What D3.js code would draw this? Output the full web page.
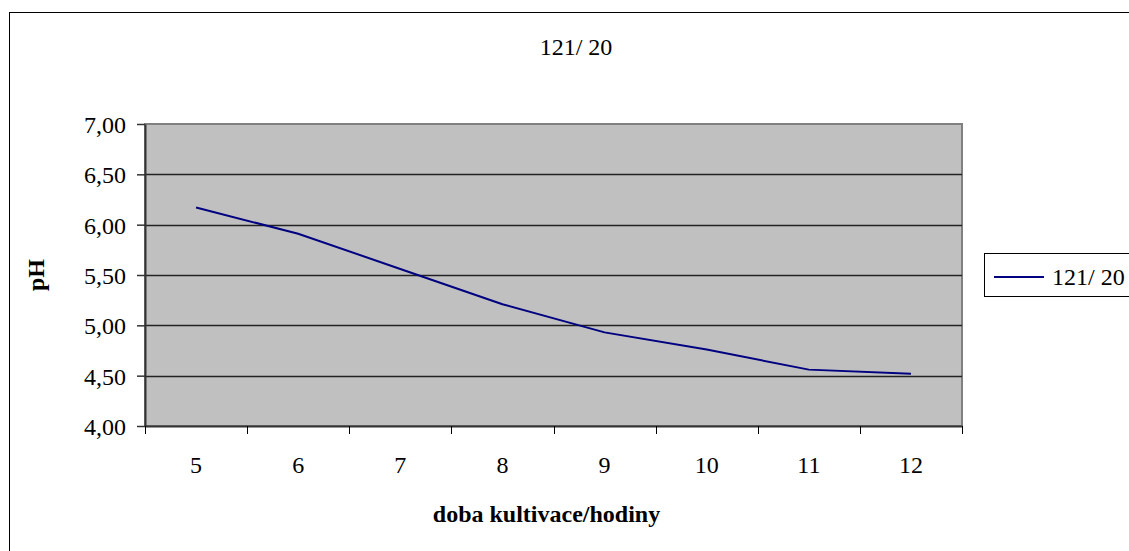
<!DOCTYPE html>
<html>
<head>
<meta charset="utf-8">
<script src="https://cdn.jsdelivr.net/npm/d3@7"></script>
<style>
  body { margin: 0; background: #fff; }
  svg text { font-family: "Times New Roman", "Liberation Serif", "DejaVu Serif", serif; font-size: 24px; fill: #000; }
</style>
</head>
<body>
<svg id="chart"></svg>
<script>
// data
const hours = ["5", "6", "7", "8", "9", "10", "11", "12"];
const phValues = [6.17, 5.91, 5.56, 5.21, 4.93, 4.76, 4.56, 4.52];
const yTicks = [4.0, 4.5, 5.0, 5.5, 6.0, 6.5, 7.0];
const seriesName = "121/ 20";
const chartTitle = "121/ 20";
const xTitle = "doba kultivace/hodiny";
const yTitle = "pH";

const W = 1129, H = 551;
const plot = {left: 145, top: 124, right: 962, bottom: 426};

const svg = d3.select("#chart")
    .attr("width", W)
    .attr("height", H);

// outer chart border (runs off the right/bottom edge like the original)
svg.append("rect")
    .attr("x", 9.5).attr("y", 12.5)
    .attr("width", 1140).attr("height", 560)
    .attr("fill", "#fff")
    .attr("stroke", "#000")
    .attr("stroke-width", 1);

const x = d3.scaleBand()
    .domain(hours)
    .range([plot.left, plot.right]);

const y = d3.scaleLinear()
    .domain([4, 7])
    .range([plot.bottom, plot.top]);

const fmt = d3.formatLocale({decimal: ",", thousands: " ", grouping: [3], currency: ["", ""]}).format(".2f");

// plot area
svg.append("rect")
    .attr("x", plot.left).attr("y", plot.top)
    .attr("width", plot.right - plot.left)
    .attr("height", plot.bottom - plot.top)
    .attr("fill", "#c0c0c0")
    .attr("stroke", "#808080")
    .attr("stroke-width", 2);

// gridlines
svg.append("g")
    .selectAll("line")
    .data(yTicks.filter(d => d > 4 && d < 7))
    .join("line")
    .attr("x1", plot.left).attr("x2", plot.right)
    .attr("y1", d => Math.round(y(d)) + 0.5)
    .attr("y2", d => Math.round(y(d)) + 0.5)
    .attr("stroke", "#222")
    .attr("stroke-width", 1.5);

// y axis
const yAxisG = svg.append("g")
    .attr("class", "axis y-axis")
    .attr("transform", `translate(${plot.left},0)`)
    .call(d3.axisLeft(y).tickValues(yTicks).tickFormat(fmt).tickSize(8).tickPadding(11).tickSizeOuter(0));
yAxisG.attr("font-family", null).attr("font-size", null);
yAxisG.select(".domain").attr("stroke", "#333").attr("stroke-width", 2);
yAxisG.selectAll(".tick line").attr("stroke", "#333").attr("stroke-width", 1.5);
yAxisG.selectAll(".tick text").attr("dy", "0.35em");

// x axis, ticks on category boundaries
const xAxisG = svg.append("g")
    .attr("class", "axis x-axis")
    .attr("transform", `translate(0,${plot.bottom})`)
    .call(d3.axisBottom(x).tickSize(0).tickPadding(30).tickSizeOuter(0));
xAxisG.attr("font-family", null).attr("font-size", null);
xAxisG.select(".domain").attr("stroke", "#333").attr("stroke-width", 2);

const bounds = hours.map(h => x(h)).concat([x(hours[hours.length - 1]) + x.bandwidth()]);
xAxisG.selectAll(".cat-tick")
    .data(bounds)
    .join("line")
    .attr("class", "cat-tick")
    .attr("x1", d => Math.round(d) + 0.5).attr("x2", d => Math.round(d) + 0.5)
    .attr("y1", 0).attr("y2", 8)
    .attr("stroke", "#000")
    .attr("stroke-width", 1);

// the series line
const line = d3.line()
    .x((d, i) => x(hours[i]) + x.bandwidth() / 2)
    .y(d => y(d));

svg.append("path")
    .datum(phValues)
    .attr("d", line)
    .attr("fill", "none")
    .attr("stroke", "#000080")
    .attr("stroke-width", 2);

// titles
svg.append("text")
    .attr("x", 576).attr("y", 55)
    .attr("text-anchor", "middle")
    .text(chartTitle);

svg.append("text")
    .attr("x", (plot.left + plot.right) / 2 - 7).attr("y", 522)
    .attr("text-anchor", "middle")
    .style("font-weight", "bold")
    .text(xTitle);

svg.append("text")
    .attr("transform", `translate(44,${(plot.top + plot.bottom) / 2}) rotate(-90)`)
    .attr("text-anchor", "middle")
    .style("font-weight", "bold")
    .text(yTitle);

// legend
const legend = svg.append("g")
    .attr("transform", "translate(984,253)");
legend.append("rect")
    .attr("x", 0.5).attr("y", 0.5)
    .attr("width", 160).attr("height", 43)
    .attr("fill", "#fff")
    .attr("stroke", "#000")
    .attr("stroke-width", 1);
legend.append("line")
    .attr("x1", 10).attr("x2", 60)
    .attr("y1", 24).attr("y2", 24)
    .attr("stroke", "#000080")
    .attr("stroke-width", 2);
legend.append("text")
    .attr("x", 68).attr("y", 32)
    .text(seriesName);
</script>
</body>
</html>
